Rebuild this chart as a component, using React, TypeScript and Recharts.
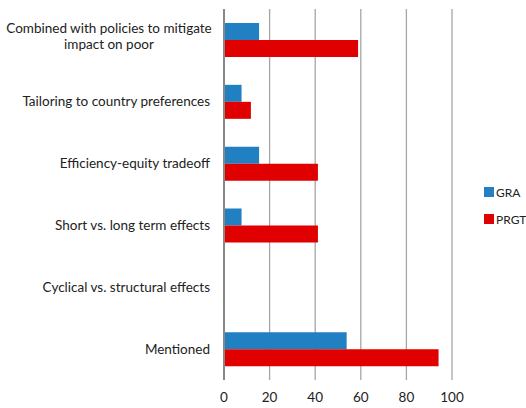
import React from 'react';
import { BarChart, Bar, XAxis, YAxis, CartesianGrid } from 'recharts';

const categories = [
  'Combined with policies to mitigate|impact on poor',
  'Tailoring to country preferences',
  'Efficiency-equity tradeoff',
  'Short vs. long term effects',
  'Cyclical vs. structural effects',
  'Mentioned',
];
const graValues = [15.4, 7.7, 15.4, 7.7, 0, 53.8];
const prgtValues = [58.8, 11.8, 41.2, 41.2, 0, 94.1];
const xTicks = [0, 20, 40, 60, 80, 100];
const seriesNames = ['GRA', 'PRGT'];

const GRA_COLOR = '#2180C2';
const PRGT_COLOR = '#E00000';
const seriesColors = [GRA_COLOR, PRGT_COLOR];
const FONT = 'Lato, "Liberation Sans", Arial, sans-serif';
const FS = 13.5;

const data = categories.map((c, i) => ({ name: c, GRA: graValues[i], PRGT: prgtValues[i] }));

const YTick = (props: any) => {
  const { y, payload } = props;
  const lines = String(payload.value).split('|');
  if (lines.length === 1) {
    return (
      <text x={210} y={y} dy={4.5} textAnchor="end" fontSize={FS} fontFamily={FONT} fill="#222">
        {lines[0]}
      </text>
    );
  }
  return (
    <text x={109} y={y} textAnchor="middle" fontSize={FS} fontFamily={FONT} fill="#222">
      {lines.map((l, i) => (
        <tspan key={i} x={109} y={y - 3 + (i - (lines.length - 1) / 2) * 16 + 4.5}>
          {l}
        </tspan>
      ))}
    </text>
  );
};

export default function App() {
  return (
    <div style={{ position: 'absolute', left: 0, top: 0, width: 526, height: 408, background: '#fff' }}>
      <BarChart
        width={526}
        height={408}
        data={data}
        layout="vertical"
        margin={{ top: 9, right: 74, bottom: 0, left: 0 }}
        barGap={0}
        barSize={17}
      >
        <CartesianGrid horizontal={false} vertical={true} stroke="#A6A6A6" strokeWidth={1.3} />
        <XAxis
          type="number"
          domain={[0, 100]}
          ticks={xTicks}
          axisLine={false}
          tickLine={false}
          tickSize={0}
          tickMargin={12}
          height={28}
          tick={{ fontSize: FS, fontFamily: FONT, fill: '#222' }}
        />
        <YAxis
          type="category"
          dataKey="name"
          width={224}
          axisLine={{ stroke: '#888', strokeWidth: 2 }}
          tickLine={false}
          tick={<YTick />}
          interval={0}
        />
        <Bar dataKey="GRA" fill={GRA_COLOR} isAnimationActive={false} />
        <Bar dataKey="PRGT" fill={PRGT_COLOR} isAnimationActive={false} />
      </BarChart>
      <div style={{ position: 'absolute', left: 484, top: 185, width: 42, fontFamily: FONT, fontSize: 12, color: '#222', whiteSpace: 'nowrap' }}>
        {seriesNames.map((n, i) => (
          <div key={n} style={{ display: 'flex', alignItems: 'center', height: 14, marginBottom: i === 0 ? 13 : 0 }}>
            <span style={{ display: 'inline-block', flexShrink: 0, width: 10, height: 10, background: seriesColors[i], marginRight: 2 }} />
            <span>{n}</span>
          </div>
        ))}
      </div>
    </div>
  );
}
